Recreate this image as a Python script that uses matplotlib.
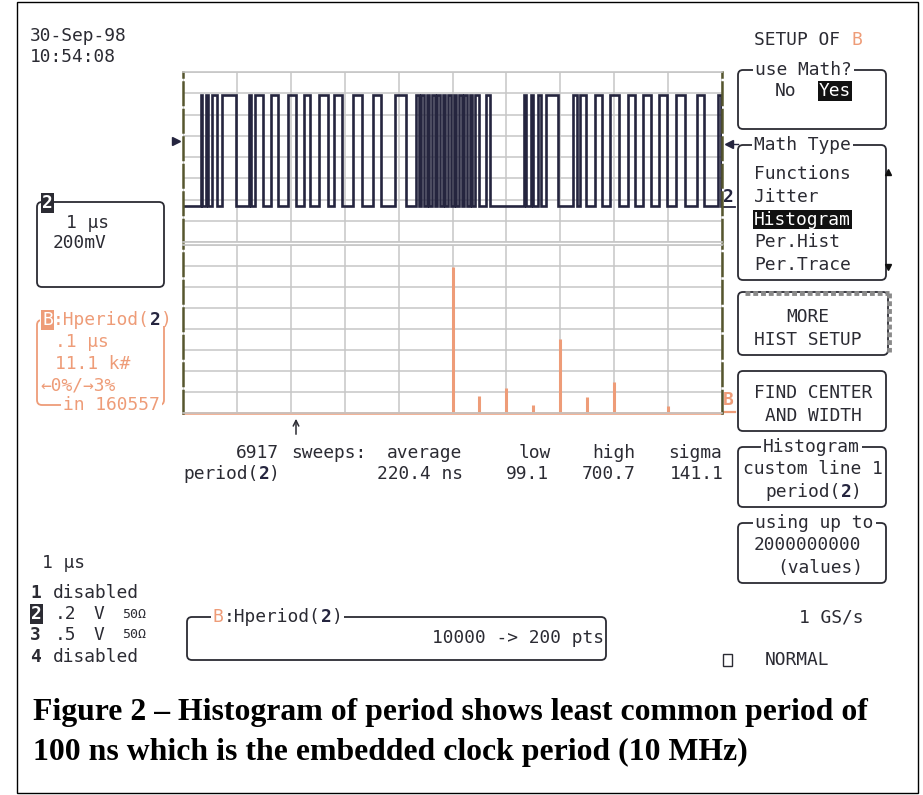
import matplotlib
matplotlib.use("Agg")
import matplotlib.pyplot as plt
from matplotlib.patches import FancyBboxPatch, Rectangle

# channel 2 trace, 1 us/div: start/end of every high pulse (us)
HIGH_START_US = [0.33, 0.43, 0.53, 0.73, 1.23, 1.33, 1.63, 1.94, 2.24, 2.52, 2.80, 3.15,
                 3.53, 3.94, 4.32, 4.42, 4.52, 4.62, 4.72, 4.82, 4.92, 5.02, 5.12,
                 5.22, 5.32, 5.42, 5.62, 6.33, 6.46, 6.58, 6.74, 7.24, 7.37, 7.64,
                 7.93, 8.25, 8.54, 8.84, 9.15, 9.54, 9.92]
HIGH_END_US = [0.36, 0.46, 0.63, 0.98, 1.27, 1.49, 1.76, 2.09, 2.36, 2.69, 2.95, 3.32,
               3.68, 4.14, 4.37, 4.47, 4.57, 4.67, 4.77, 4.87, 4.97, 5.07, 5.17,
               5.27, 5.37, 5.50, 5.70, 6.36, 6.50, 6.64, 6.96, 7.31, 7.48, 7.78,
               8.09, 8.38, 8.68, 8.98, 9.31, 9.67, 9.99]
HIGH_DIV = 6.9
LOW_DIV = 1.7

# histogram of period(2): bin centre (ns) and count (k#), .1 us/div, 11.1 k#/div
HIST_PERIOD_NS = [100, 150, 200, 250, 300, 350, 400, 500]
HIST_COUNT_K = [77.1, 9.1, 13.4, 4.2, 39.1, 8.7, 16.4, 3.9]
HIST_LEFT_NS = -400
HIST_NS_PER_DIV = 100
HIST_K_PER_DIV = 11.1

STATS_HEAD = ["6917", "sweeps:", "average", "low", "high", "sigma"]
STATS_VALS = ["220.4 ns", "99.1", "700.7", "141.1"]
MATH_TYPES = ["Functions", "Jitter", "Histogram", "Per.Hist", "Per.Trace"]
CAPTION = ["Figure 2 \u2013 Histogram of period shows least common period of",
           "100 ns which is the embedded clock period (10 MHz)"]

INK = "#2b2b33"
NAVY = "#25253f"
SALMON = "#ee9c78"
GRID = "#c6c6c6"
OLIVE = "#56562e"
MONO = "DejaVu Sans Mono"
FS = 12.9
CW = 0.602 * FS * 100 / 72  # monospace advance in px

W, H = 923, 795
fig = plt.figure(figsize=(W / 100, H / 100), dpi=100)
ax0 = fig.add_axes([0, 0, 1, 1])
ax0.set_xlim(0, W)
ax0.set_ylim(H, 0)
ax0.axis("off")


def put(x, y, s, color=INK, bold=False, rev=False, size=FS, ha="left"):
    kw = {}
    if rev:
        kw["bbox"] = dict(facecolor=color, edgecolor="none", pad=0.6)
        color = "white"
    ax0.text(x, y, s, family=MONO, size=size, color=color, ha=ha, va="center",
             weight="bold" if bold else "normal", **kw)


def parts(x, y, items):
    for s, kw in items:
        put(x, y, s, **kw)
        x += len(s) * CW


def box(x0, y0, x1, y1, color=INK):
    ax0.add_patch(FancyBboxPatch((x0, y0), x1 - x0, y1 - y0,
                                 boxstyle="round,pad=0,rounding_size=5",
                                 fill=False, ec=color, lw=1.3))


def gap(x, y, n):
    ax0.add_patch(Rectangle((x - 2, y - 6), n * CW + 4, 12, fc="white", ec="none",
                            zorder=2.5))


# ---- scope panels ----
def panel(rect, xlim, ylim, nx, ny):
    ax = fig.add_axes(rect)
    ax.set_xlim(*xlim)
    ax.set_ylim(*ylim)
    x0, x1 = xlim
    y0, y1 = ylim
    ax.set_xticks([x0 + (x1 - x0) * i / nx for i in range(nx + 1)])
    ax.set_yticks([y0 + (y1 - y0) * i / ny for i in range(ny + 1)])
    ax.grid(True, color=GRID, lw=1.1)
    ax.tick_params(length=0, labelbottom=False, labelleft=False)
    for side in ("top", "bottom"):
        ax.spines[side].set_color(GRID)
        ax.spines[side].set_linewidth(1.2)
    for side in ("left", "right"):
        ax.spines[side].set_color(OLIVE)
        ax.spines[side].set_linewidth(1.8)
        ax.spines[side].set_linestyle((0, (9, 2)))
    return ax


ax_w = panel([183 / W, 1 - 242 / H, 539 / W, 170 / H], (0, 10), (0, 8), 10, 8)
xs, ys = [0], [LOW_DIV]
for s, e in zip(HIGH_START_US, HIGH_END_US):
    xs += [s, s, e, e]
    ys += [LOW_DIV, HIGH_DIV, HIGH_DIV, LOW_DIV]
xs.append(10)
ys.append(LOW_DIV)
ax_w.plot(xs, ys, color=NAVY, lw=1.9, solid_joinstyle="miter")

hist_right = HIST_LEFT_NS + 10 * HIST_NS_PER_DIV
ax_h = panel([183 / W, 1 - 413 / H, 539 / W, 168 / H], (HIST_LEFT_NS, hist_right),
             (0, 8 * HIST_K_PER_DIV), 10, 8)
ax_h.vlines(HIST_PERIOD_NS, 0, HIST_COUNT_K, color=SALMON, lw=2.2)
ax_h.axhline(0.15, color=SALMON, lw=1.8, clip_on=False)

# ---- markers round the grid ----
ax0.plot(176, 141, marker=">", ms=6, color=NAVY)
ax0.plot(729, 144, marker="<", ms=6, color=NAVY)
ax0.plot([733, 738], [144, 144], color=NAVY, lw=1)
put(723, 197, "2", color=NAVY, bold=True)
ax0.plot([722, 735], [207, 207], color=NAVY, lw=1.3)
put(723, 400, "B", color=SALMON, bold=True)
ax0.plot([722, 735], [412, 412], color=SALMON, lw=1.6)

# ---- header / left column ----
put(30, 36, "30-Sep-98")
put(30, 57, "10:54:08")

box(37, 202, 164, 287)
put(42, 203, "2", bold=True, rev=True)
put(66, 223, "1 \u03bcs")
put(53, 243, "200mV")

box(37, 320, 164, 405, color=SALMON)
gap(42, 320, 12)
parts(42, 320, [("B", dict(color=SALMON, rev=True)), (":Hperiod(", dict(color=SALMON)),
                ("2", dict(color=NAVY, bold=True)), (")", dict(color=SALMON))])
put(55, 342, ".1 \u03bcs", color=SALMON)
put(55, 364, "11.1 k#", color=SALMON)
put(40, 385, "\u21900%/\u21923%", color=SALMON)
gap(63, 405, 9)
put(63, 405, "in 160557", color=SALMON)

# ---- right menu ----
parts(754, 40, [("SETUP OF ", {}), ("B", dict(color=SALMON))])

box(738, 70, 886, 129)
gap(755, 70, 9)
put(755, 70, "use Math?")
put(775, 91, "No")
put(819, 91, "Yes", rev=True, color="#111111")

box(738, 145, 886, 280)
gap(754, 145, 9)
put(754, 145, "Math Type")
for i, name in enumerate(MATH_TYPES):
    put(754, 174 + i * 22.8, name, rev=(name == "Histogram"), color="#111111" if name == "Histogram" else INK)
ax0.plot(888, 172, marker="^", ms=5, color="#111111")
ax0.plot(888, 267, marker="v", ms=5, color="#111111")

box(738, 292, 888, 355)
ax0.plot([745, 889], [292.5, 292.5], color="#8a8a8a", lw=3.5, ls=(0, (1, 0.6)))
ax0.plot([888.5, 888.5], [293, 352], color="#8a8a8a", lw=3.5, ls=(0, (1, 0.6)))
put(808, 317, "MORE", ha="center")
put(808, 340, "HIST SETUP", ha="center")

box(738, 371, 886, 431)
put(813, 393, "FIND CENTER", ha="center")
put(813, 416, "AND WIDTH", ha="center")

box(738, 447, 886, 507)
gap(763, 447, 9)
put(763, 447, "Histogram")
put(743, 469, "custom line 1")
parts(765, 492, [("period(", {}), ("2", dict(color=NAVY, bold=True)), (")", {})])

box(738, 523, 886, 583)
gap(755, 523, 11)
put(755, 523, "using up to")
put(754, 545, "2000000000")
put(777, 568, "(values)")

put(799, 618, "1 GS/s")
ax0.add_patch(Rectangle((723, 654), 9, 12, fill=False, ec=INK, lw=1))
put(765, 660, "NORMAL")

# ---- statistics under the grid ----
ax0.annotate("", xy=(296, 416), xytext=(296, 437),
             arrowprops=dict(arrowstyle="->", color=INK, lw=1.1))
for x, s in zip([236, 291, 387, 519, 592, 668], STATS_HEAD):
    put(x, 453, s)
parts(183, 474, [("period(", {}), ("2", dict(color=NAVY, bold=True)), (")", {})])
for x, s in zip([377, 506, 582, 670], STATS_VALS):
    put(x, 474, s)

# ---- channel list ----
put(42, 563, "1 \u03bcs")
put(30, 593, "1", bold=True)
put(53, 593, "disabled")
put(31, 614, "2", bold=True, rev=True)
put(30, 635, "3", bold=True)
for y, v in [(614, ".2"), (635, ".5")]:
    put(55, y, v)
    put(93, y, "V")
    put(122, y, "50\u03a9", size=9.5)
put(30, 657, "4", bold=True)
put(53, 657, "disabled")

box(187, 617, 606, 660)
gap(213, 617, 12)
parts(213, 617, [("B", dict(color=SALMON)), (":Hperiod(", {}),
                 ("2", dict(color=NAVY, bold=True)), (")", {})])
put(432, 638, "10000 -> 200 pts")

# ---- caption ----
for y, line in zip([720, 760], CAPTION):
    ax0.text(33, y, line, family="Liberation Serif", weight="bold", size=22.9,
             color="black", va="baseline")

ax0.add_patch(Rectangle((17, 2), 901, 791, fill=False, ec="black", lw=1))

fig.savefig("out.png", dpi=100)
